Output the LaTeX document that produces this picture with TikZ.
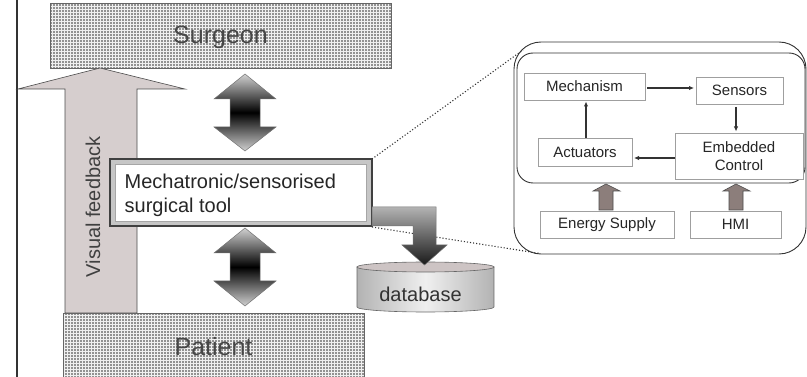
\documentclass[tikz,border=0pt]{standalone}
\usepackage{fontspec}
\setmainfont{Liberation Sans}
\usetikzlibrary{arrows.meta,patterns,calc}

\definecolor{feedfill}{RGB}{214,206,206}
\definecolor{supplyfill}{RGB}{140,126,123}
\definecolor{dbtop}{RGB}{205,196,196}

% dense dot screen for the surgeon and patient blocks
\pgfdeclarepatternformonly{screendots}{\pgfqpoint{-1pt}{-1pt}}{\pgfqpoint{1pt}{1pt}}{\pgfqpoint{3pt}{3pt}}{%
  \pgfpathcircle{\pgfqpoint{0pt}{0pt}}{0.8pt}\pgfusepath{fill}}

\tikzset{
  dotbox/.style={draw=black!60, line width=0.6pt, preaction={fill=gray!12},
    pattern=screendots, pattern color=black!80, inner sep=0pt, outer sep=0pt,
    text=black!72, font=\fontsize{25}{30}\selectfont},
  sbox/.style={draw=gray!75, line width=0.8pt, fill=white, inner sep=0pt,
    outer sep=0pt, text=black!85, font=\fontsize{15}{18}\selectfont, align=center},
  conn/.style={draw=black!80, line width=1.2pt, -{Latex[length=5pt,width=4.5pt]}},
  duplex/.style={draw=black!55, line width=0.5pt, top color=black!18,
    bottom color=black!18, middle color=black},
  supply/.style={draw=black!70, line width=0.6pt, fill=supplyfill},
  zoomline/.style={draw=black!80, line width=1.1pt, dotted},
  roundframe/.style={draw=black!80, line width=0.9pt, fill=white, inner sep=0pt, outer sep=0pt}
}

\begin{document}
\begin{tikzpicture}[x=1pt,y=-1pt]
\useasboundingbox (0,0) rectangle (807,377);

% left border line
\draw[line width=1.8pt, black!80] (17,-2) -- (17,379);

% surgeon block
\node[dotbox, minimum width=341pt, minimum height=65pt] (surgeon) at (220.5,35.5) {};
\node[text=black!72, font=\fontsize{25}{30}\selectfont, inner sep=0pt] (surgeonlbl) at (220.5,37) {Surgeon};

% visual feedback arrow
\draw[fill=feedfill, draw=black!70, line width=0.6pt]
  (100,68) -- (185,89) -- (137,89) -- (137,313) -- (65,313) -- (65,89) -- (18,89) -- cycle;
\node[rotate=90, text=black!75, font=\fontsize{20}{24}\selectfont, inner sep=0pt] (vfb) at (93,207) {Visual feedback};

% patient block
\node[dotbox, minimum width=301pt, minimum height=72pt] (patient) at (213.5,349) {};
\node[text=black!72, font=\fontsize{25}{30}\selectfont, inner sep=0pt] (patientlbl) at (213.5,346.5) {Patient};

% two-way exchange arrows
\path[duplex] (245,74) -- (276,99) -- (260,99) -- (260,127) -- (276,127) -- (245,151)
  -- (214,127) -- (230,127) -- (230,99) -- (214,99) -- cycle;
\path[duplex] (245,228) -- (276,253) -- (260,253) -- (260,281) -- (276,281) -- (245,306)
  -- (214,281) -- (230,281) -- (230,253) -- (214,253) -- cycle;

% surgical tool block (framed)
\node[draw=black!75, line width=1.4pt, fill=gray!45, minimum width=262pt, minimum height=67pt,
  inner sep=0pt, outer sep=0pt] (tool) at (241,192.5) {};
\node[draw=gray!70, line width=0.8pt, fill=white, minimum width=251pt, minimum height=57pt,
  inner sep=0pt] (toolin) at (240.5,192.5) {};
\node[anchor=west, align=left, inner sep=0pt, text=black!85, font=\fontsize{20}{24}\selectfont]
  (toollbl) at (124.5,195.5) {Mechatronic/sensorised\\surgical tool};

% database cylinder
\path[draw=black!60, line width=0.6pt, left color=gray!60, right color=gray!60, middle color=gray!12]
  (357,267) -- (357,307) arc[start angle=180, end angle=360, x radius=68.5pt, y radius=5pt]
  -- (494,267) -- cycle;
\draw[black!60, line width=0.6pt, fill=dbtop] (425.5,267) ellipse [x radius=68.5pt, y radius=5pt];
\node[text=black!80, font=\fontsize{20}{24}\selectfont, inner sep=0pt] (db) at (420.5,294) {database};

% detail view frames
\node[roundframe, rounded corners=27pt, minimum width=292pt, minimum height=212pt] (detail) at (660,148) {};
\node[roundframe, rounded corners=16pt, minimum width=288pt, minimum height=130pt] (core) at (661,118) {};

% zoom lines from the tool to the detail view
\coordinate (ztop) at (523,50);
\coordinate (zbot) at (540,253.5);
\draw[zoomline] (tool.north east) -- (ztop);
\draw[zoomline] ([yshift=-1pt]tool.south east) -- (zbot);

% data flow from tool into the database
\path[draw=black!55, line width=0.5pt, top color=black!30, bottom color=black!90]
  (372,207) -- (436,207) -- (436,245) -- (447,245) -- (424.5,265) -- (402,245)
  -- (413,245) -- (413,226) -- (372,226) -- cycle;

% detail view components
\node[sbox, minimum width=121pt, minimum height=27pt] (mech) at (584.5,86.5) {Mechanism};
\node[sbox, minimum width=87pt, minimum height=27pt] (sens) at (739.5,90.5) {Sensors};
\node[sbox, minimum width=94pt, minimum height=28pt] (act) at (585,152) {Actuators};
\node[sbox, minimum width=128pt, minimum height=46pt] (ctrl) at (739,156) {Embedded\\Control};
\node[sbox, minimum width=134pt, minimum height=27pt] (energy) at (607,224.5) {Energy Supply};
\node[sbox, minimum width=91pt, minimum height=27pt] (hmi) at (735.5,224.5) {HMI};

\draw[conn] ($(mech.east)+(2,1.5)$) -- ($(sens.west)+(-2,-2.5)$);
\draw[conn] ($(sens.south)+(-3.5,3)$) -- ($(ctrl.north)+(-3,-1.5)$);
\draw[conn] ($(ctrl.west)+(0,2)$) -- ($(act.east)+(2,6)$);
\draw[conn] ($(act.north)+(1,0)$) -- ($(mech.south)+(1.5,1.5)$);

% supply arrows into the core
\draw[supply] (599,210) -- (599,191) -- (593,191) -- (606,184) -- (620,191) -- (613,191) -- (613,210) -- cycle;
\draw[supply] (729,210) -- (729,191) -- (723,191) -- (736,184) -- (750,191) -- (743,191) -- (743,210) -- cycle;
\end{tikzpicture}
\end{document}
